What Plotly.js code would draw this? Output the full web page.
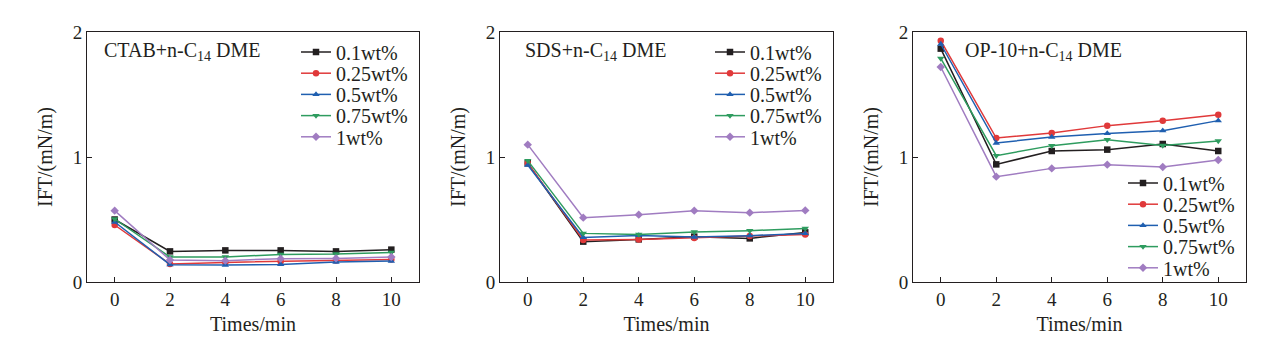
<!DOCTYPE html>
<html><head><meta charset="utf-8">
<script src="https://cdn.plot.ly/plotly-3.0.1.min.js"></script>
<style>html,body{margin:0;padding:0;background:#fff}#chart{width:1270px;height:341px}</style>
</head><body><div id="chart"></div>
<script>
const times = [0, 2, 4, 6, 8, 10];
const seriesNames = ['0.1wt%', '0.25wt%', '0.5wt%', '0.75wt%', '1wt%'];
const panelTitles = ['CTAB+n-C<sub>14</sub> DME', 'SDS+n-C<sub>14</sub> DME', 'OP-10+n-C<sub>14</sub> DME'];
const xTickVals = [0, 2, 4, 6, 8, 10];
const yTickVals = [0, 1, 2];

// CTAB + n-C14 DME
const ctab_01  = [0.50, 0.245, 0.253, 0.253, 0.245, 0.259];
const ctab_025 = [0.456, 0.144, 0.157, 0.165, 0.173, 0.181];
const ctab_05  = [0.48, 0.139, 0.136, 0.141, 0.16, 0.168];
const ctab_075 = [0.504, 0.20, 0.20, 0.221, 0.224, 0.237];
const ctab_1   = [0.571, 0.176, 0.171, 0.187, 0.189, 0.20];
// SDS + n-C14 DME
const sds_01  = [0.95, 0.323, 0.341, 0.363, 0.349, 0.397];
const sds_025 = [0.95, 0.336, 0.341, 0.352, 0.368, 0.381];
const sds_05  = [0.936, 0.357, 0.373, 0.36, 0.371, 0.389];
const sds_075 = [0.971, 0.389, 0.381, 0.40, 0.411, 0.429];
const sds_1   = [1.099, 0.515, 0.539, 0.571, 0.555, 0.573];
// OP-10 + n-C14 DME
const op_01  = [1.867, 0.941, 1.048, 1.059, 1.104, 1.048];
const op_025 = [1.931, 1.152, 1.192, 1.251, 1.291, 1.339];
const op_05  = [1.904, 1.112, 1.16, 1.189, 1.211, 1.291];
const op_075 = [1.789, 1.011, 1.091, 1.139, 1.093, 1.128];
const op_1   = [1.72, 0.843, 0.909, 0.939, 0.92, 0.976];

const panels = [
  [ctab_01, ctab_025, ctab_05, ctab_075, ctab_1],
  [sds_01, sds_025, sds_05, sds_075, sds_1],
  [op_01, op_025, op_05, op_075, op_1]
];
const colors = ['#231f20', '#e0393a', '#1f5fb0', '#2e9c5f', '#a07cc1'];
const symbols = ['square', 'circle', 'triangle-up', 'triangle-down', 'diamond'];
const FONT = 'Liberation Serif, Times New Roman, serif';

const traces = [];
panels.forEach((p, pi) => {
  p.forEach((vals, si) => {
    traces.push({
      x: times, y: vals, type: 'scatter', mode: 'lines+markers',
      name: seriesNames[si],
      xaxis: pi === 0 ? 'x' : 'x' + (pi + 1),
      yaxis: pi === 0 ? 'y' : 'y' + (pi + 1),
      legend: pi === 0 ? 'legend' : 'legend' + (pi + 1),
      line: {color: colors[si], width: 1.5},
      marker: {color: colors[si], symbol: symbols[si], size: 6.5}
    });
  });
});

const W = 1270, H = 341;
const xdoms = [[87, 419], [500, 833], [913, 1246]];
const ydom = [1 - 282 / H, 1 - 32 / H];
const legendPos = [[296, 37], [710, 36], [1123, 165]];
const legendFirstY = [52, 52, 183];
const legendStep = 21.2;
const annoX = [102, 523, 963];

const layout = {
  width: W, height: H,
  margin: {l: 0, r: 0, t: 0, b: 0},
  paper_bgcolor: '#fff', plot_bgcolor: '#fff',
  font: {family: FONT, size: 19, color: '#231f20'},
  showlegend: true,
  annotations: []
};
for (let i = 0; i < 3; i++) {
  const s = i === 0 ? '' : String(i + 1);
  layout['xaxis' + s] = {
    domain: [xdoms[i][0] / W, xdoms[i][1] / W],
    anchor: 'y' + s,
    range: [-1, 11],
    tickvals: xTickVals,
    ticks: 'inside', ticklen: 5, tickwidth: 1, tickcolor: '#231f20',
    showline: true, linecolor: '#231f20', linewidth: 1, mirror: true,
    showgrid: false, zeroline: false,
    tickfont: {family: FONT, size: 19},
    title: {text: 'Times/min', font: {family: FONT, size: 20}, standoff: 8}
  };
  layout['yaxis' + s] = {
    domain: ydom,
    anchor: 'x' + s,
    range: [0, 2],
    tickvals: yTickVals,
    ticks: 'inside', ticklen: 5, tickwidth: 1, tickcolor: '#231f20',
    showline: true, linecolor: '#231f20', linewidth: 1, mirror: true,
    showgrid: false, zeroline: false,
    tickfont: {family: FONT, size: 19},
    title: {text: 'IFT/(mN/m)', font: {family: FONT, size: 20}, standoff: 14}
  };
  const lk = i === 0 ? 'legend' : 'legend' + (i + 1);
  layout[lk] = {
    x: legendPos[i][0] / W, y: 1 - legendPos[i][1] / H,
    xanchor: 'left', yanchor: 'top',
    bgcolor: 'rgba(0,0,0,0)', borderwidth: 0,
    font: {family: FONT, size: 20, color: '#231f20'},
    tracegroupgap: 0, itemwidth: 30
  };
  layout.annotations.push({
    xref: 'paper', yref: 'paper',
    x: annoX[i] / W, y: 1 - 52 / H,
    xanchor: 'left', yanchor: 'middle',
    text: panelTitles[i], showarrow: false,
    font: {family: FONT, size: 20, color: '#231f20'}
  });
}

function parseTranslate(str) {
  const m = /translate\(\s*([-\d.e]+)[ ,]+([-\d.e]+)\s*\)/.exec(str || '');
  return m ? [parseFloat(m[1]), parseFloat(m[2])] : [0, 0];
}

Plotly.newPlot('chart', traces, layout, {displayModeBar: false, staticPlot: true}).then(gd => {
  // tighten legend row spacing to match the reference
  ['legend', 'legend2', 'legend3'].forEach((cls, i) => {
    const lg = gd.querySelector('g.' + cls);
    if (!lg) return;
    const ly = parseTranslate(lg.getAttribute('transform'))[1];
    const items = lg.querySelectorAll('g.traces');
    items.forEach((it, k) => {
      const tx = parseTranslate(it.getAttribute('transform'))[0];
      it.setAttribute('transform', 'translate(' + tx + ',' + (legendFirstY[i] + k * legendStep - ly) + ')');
    });
    const bg = lg.querySelector('rect.bg');
    if (bg) bg.setAttribute('height', String(5 * legendStep + 10));
  });
});
</script>
</body></html>
